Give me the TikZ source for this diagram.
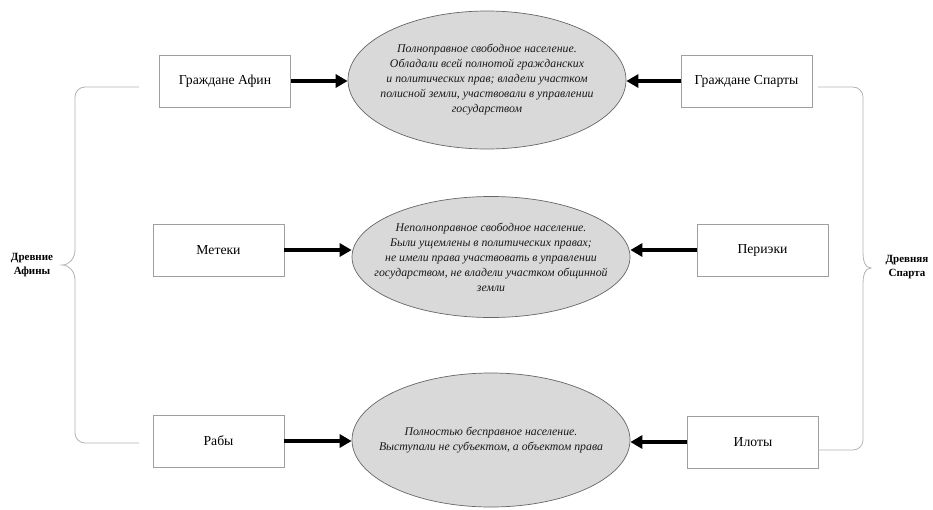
\documentclass[tikz,border=0pt]{standalone}
\usepackage{fontspec}
\setmainfont{Liberation Serif}
\usetikzlibrary{arrows.meta, positioning, shapes.geometric}

\tikzset{
  box/.style={draw=gray!75, fill=white, line width=0.8pt, minimum width=131pt,
              minimum height=52pt, inner sep=2pt, font=\fontsize{13.7}{15}\selectfont},
  oval/.style={ellipse, draw=gray!80!black, fill=gray!30, line width=0.7pt,
               minimum width=278pt, inner xsep=-25pt, inner ysep=0pt, align=center,
               text=black!90, font=\fontsize{11.8}{15}\selectfont\itshape},
  arr/.style={line width=3.5pt, -{Triangle[length=12pt,width=13pt]}},
  brace/.style={draw=gray!60, line width=0.8pt},
  side/.style={align=center, font=\fontsize{11}{13.5}\selectfont\bfseries}
}

\begin{document}
\begin{tikzpicture}[x=1pt, y=-1pt]
\useasboundingbox (0,0) rectangle (933,509);
%
\node[box] (a1) at (225,81)   {Граждане Афин};
\node[box] (a2) at (218.5,250) {Метеки};
\node[box] (a3) at (218.5,441) {Рабы};
%
\node[box] (s1) at (746.5,81) {Граждане Спарты};
\node[box] (s2) at (762.5,250) {Периэки};
\node[box] (s3) at (753,442)  {Илоты};
%
\node[oval, minimum height=138pt] (e1) at (487,80)
  {Полноправное свободное население.\\ Обладали всей полнотой гражданских\\
   и политических прав; владели участком\\ полисной земли, участвовали в управлении\\
   государством};
\node[oval, minimum height=121pt] (e2) at (491,257)
  {Неполноправное свободное население.\\ Были ущемлены в политических правах;\\
   не имели права участвовать в управлении\\ государством, не владели участком общинной\\
   земли};
\node[oval, minimum height=134pt] (e3) at (491,440)
  {Полностью бесправное население.\\ Выступали не субъектом, а объектом права};
%
\node[side] (la) at (32,265)  {Древние\\ Афины};
\node[side] (ls) at (907,267) {Древняя\\ Спарта};

\draw[arr] (a1.east) -- (a1.east -| e1.west);
\draw[arr] (a2.east) -- (a2.east -| e2.west);
\draw[arr] (a3.east) -- (a3.east -| e3.west);
\draw[arr] (s1.west) -- (s1.west -| e1.east);
\draw[arr] (s2.west) -- (s2.west -| e2.east);
\draw[arr] (s3.west) -- (s3.west -| e3.east);
%
\draw[brace] (139,87) -- (85,87) to[out=180,in=90] (75,97) -- (75,250)
  to[out=-90,in=0] (62,265) to[out=0,in=90] (75,280) -- (75,433)
  to[out=-90,in=180] (85,443) -- (139,443);
\draw[brace] (818,87) -- (853,87) to[out=0,in=90] (863,97) -- (863,253)
  to[out=-90,in=180] (871,268) to[out=180,in=90] (863,283) -- (863,440)
  to[out=-90,in=0] (853,450) -- (818,450);
%
\end{tikzpicture}
\end{document}
